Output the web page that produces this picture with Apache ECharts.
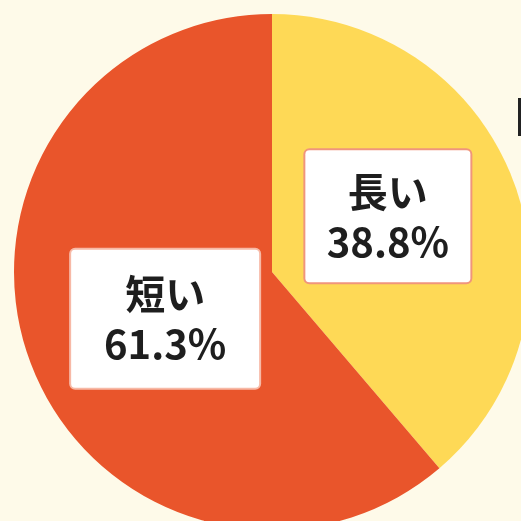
<!DOCTYPE html>
<html>
<head>
<meta charset="utf-8">
<script src="https://cdn.jsdelivr.net/npm/echarts@6/dist/echarts.min.js"></script>
<style>
  html, body { margin: 0; padding: 0; background: #fefae9; }
  #chart { width: 521px; height: 521px; }
</style>
</head>
<body>
<div id="chart"></div>
<script>
// 区分と割合(%)
const categories = ['長い', '短い'];
const values = [38.8, 61.3];
const colors = ['#fed956', '#e9552b'];
const boxBorders = ['#f0957c', '#f7b9a6'];
const labelShift = [[-8, -10], [17, 1]];

let chart = echarts.init(document.getElementById('chart'));

let data = categories.map((name, i) => ({
  name: name,
  value: values[i],
  itemStyle: { color: colors[i] },
  label: {
    borderColor: boxBorders[i],
    offset: labelShift[i],
    width: i === 0 ? 141 : 164,
    padding: i === 0 ? [16, 12] : [19, 12]
  }
}));

chart.setOption({
  backgroundColor: '#fefae9',
  animation: false,
  graphic: [
    { type: 'rect', shape: { x: 518, y: 98, width: 3, height: 38 }, style: { fill: '#222' } }
  ],
  series: [
    {
      type: 'pie',
      center: [272, 272],
      radius: 258,
      startAngle: 90,
      clockwise: true,
      data: data,
      label: {
        show: true,
        position: 'inside',
        formatter: '{b}\n{c}%',
        fontFamily: '"Noto Sans CJK JP", sans-serif',
        fontWeight: 'bold',
        fontSize: 40,
        lineHeight: 50,
        color: '#1e1e1e',
        align: 'center',
        backgroundColor: '#ffffff',
        borderWidth: 2,
        borderRadius: 4
      },
      labelLine: { show: false },
      emphasis: { disabled: true }
    }
  ]
});
</script>
</body>
</html>
